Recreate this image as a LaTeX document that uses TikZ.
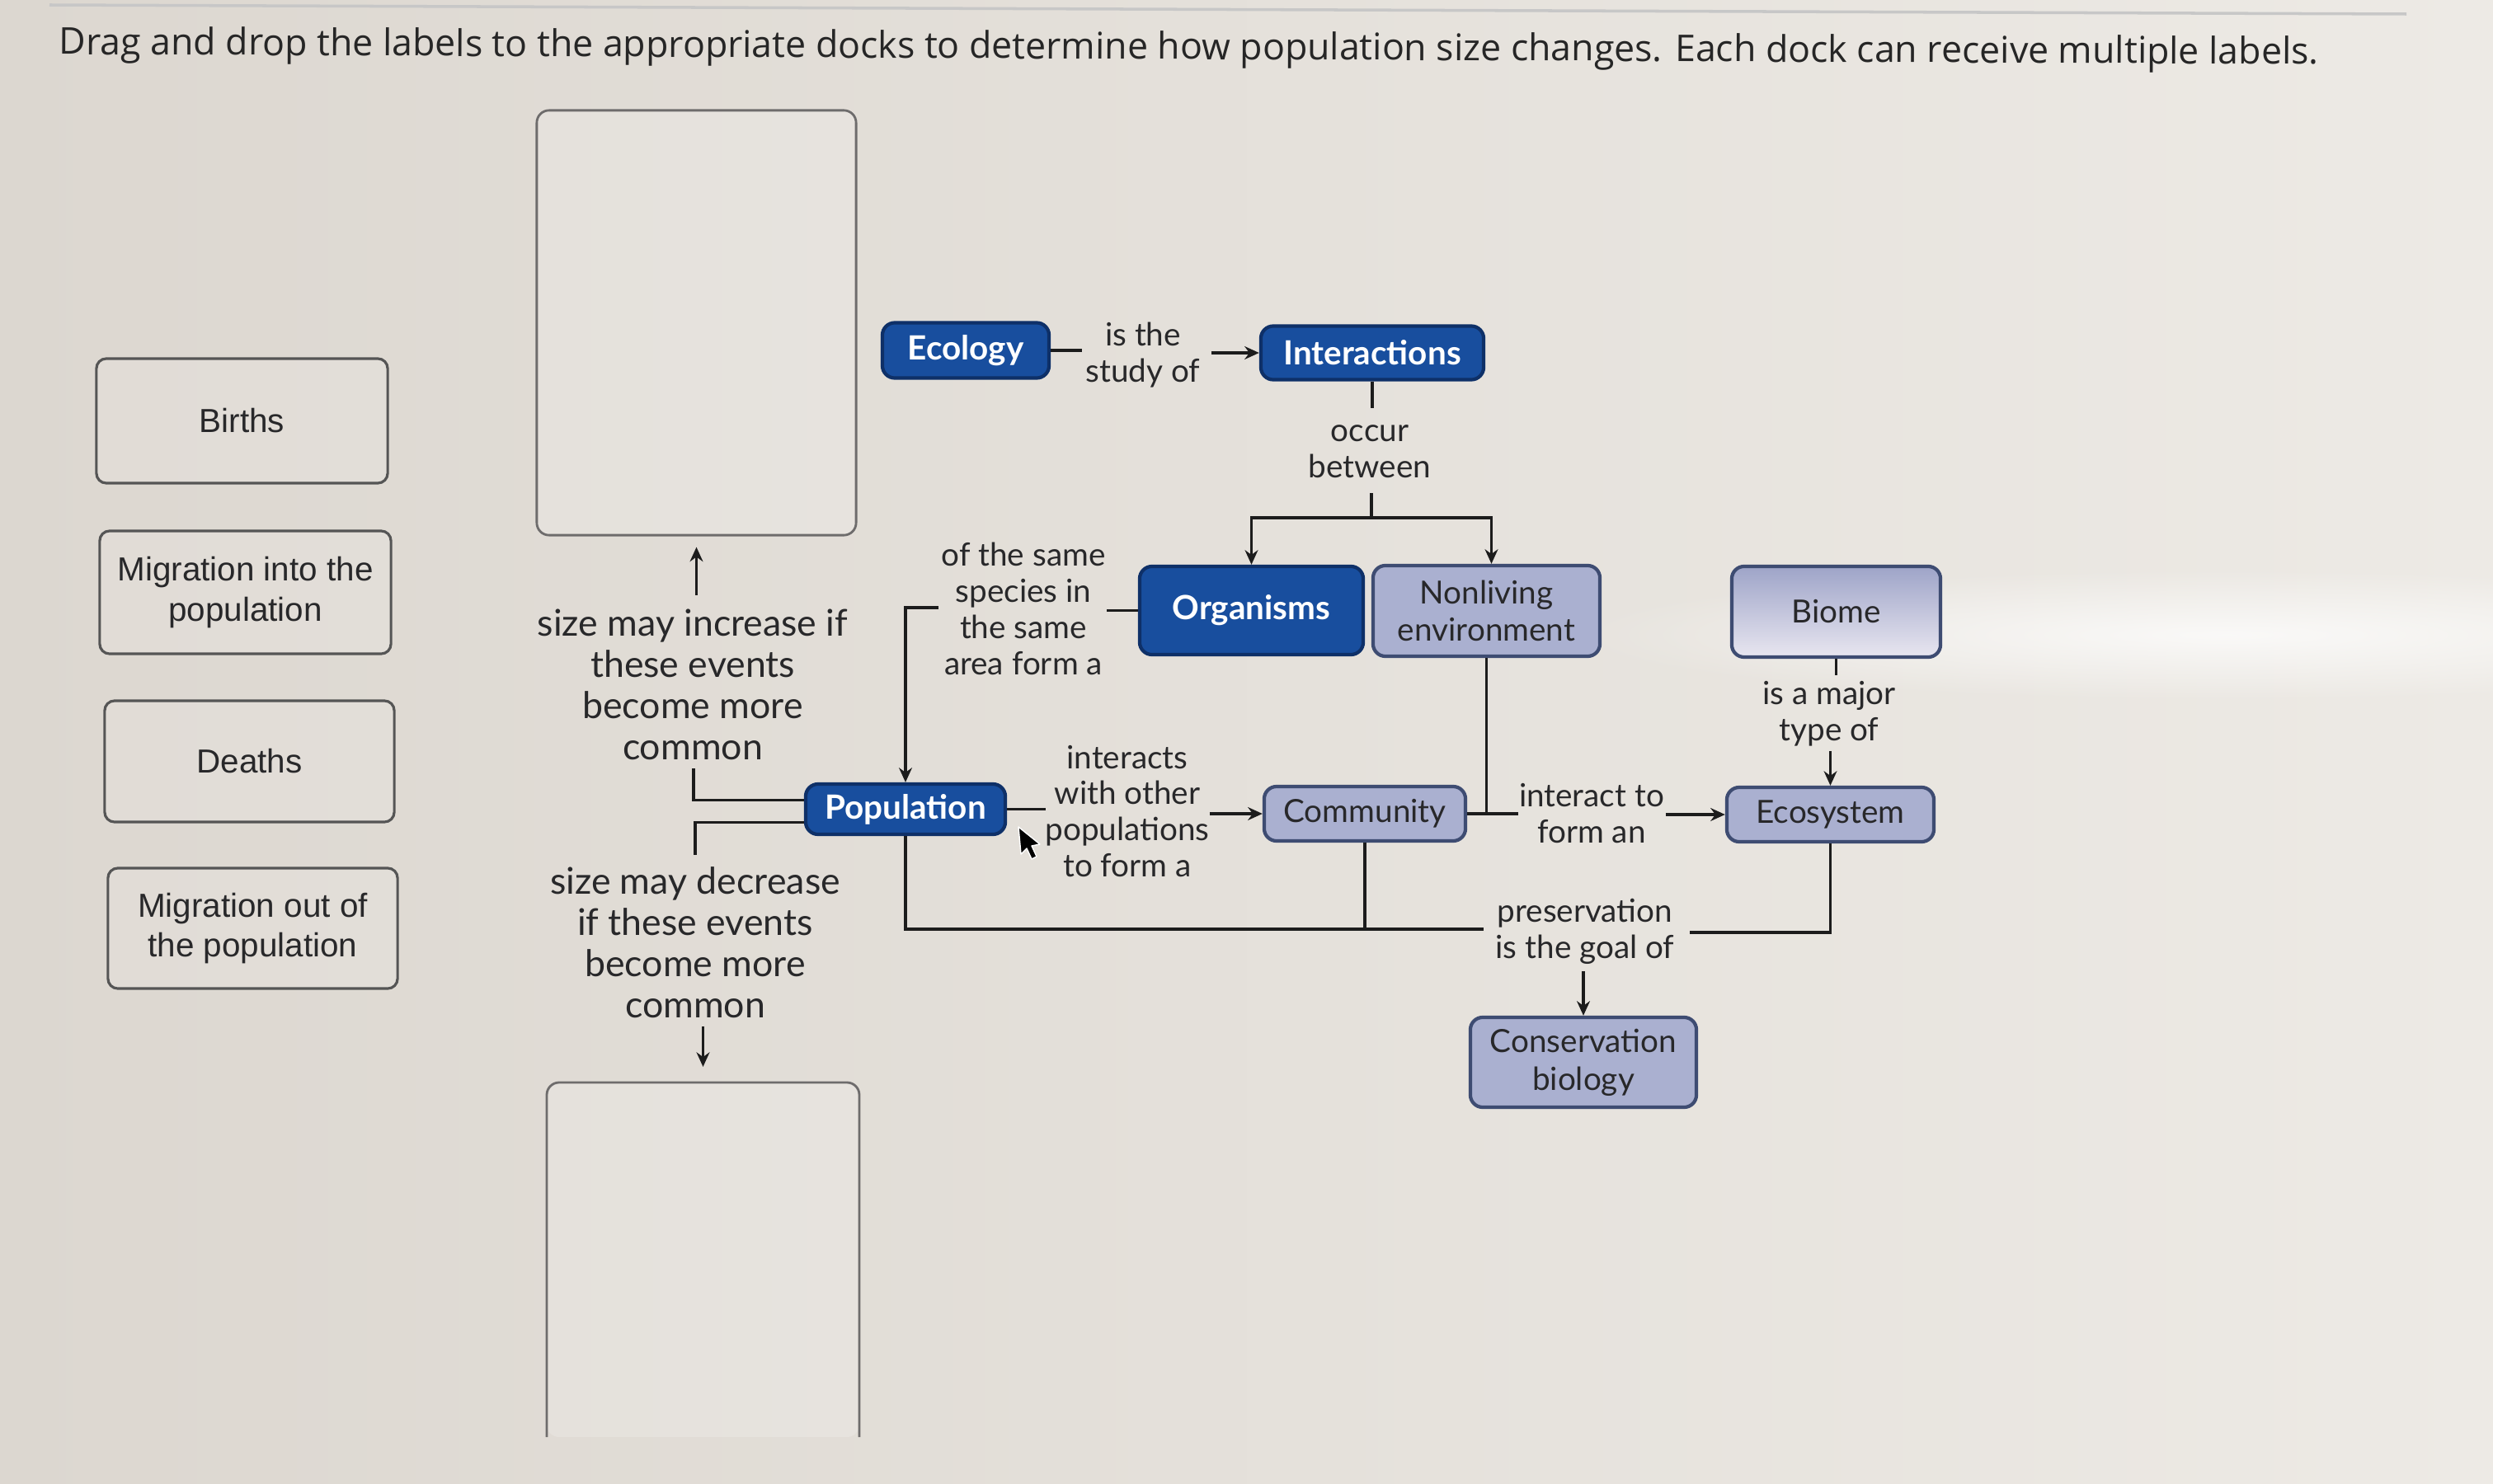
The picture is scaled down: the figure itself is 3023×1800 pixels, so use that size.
\documentclass[tikz,border=0pt]{standalone}
\usepackage{fontspec}
\usetikzlibrary{arrows.meta,fadings}
\newfontfamily\lato{Lato}
\newfontfamily\osans{Open Sans}
\newfontfamily\arialish{Liberation Sans}
\definecolor{bgL}{RGB}{220,215,208}
\definecolor{bgR}{RGB}{237,234,229}
\definecolor{blueF}{RGB}{24,78,158}
\definecolor{blueB}{RGB}{14,48,104}
\definecolor{lavF}{RGB}{170,176,208}
\definecolor{lavB}{RGB}{62,76,114}
\definecolor{lavTop}{RGB}{158,164,200}
\definecolor{lavBot}{RGB}{232,230,240}
\definecolor{txt}{RGB}{40,40,42}
\definecolor{lineC}{RGB}{28,28,28}
\definecolor{cardB}{RGB}{85,85,85}
\definecolor{dockB}{RGB}{110,108,108}
\tikzfading[name=glowfade, inner color=transparent!25, outer color=transparent!100]
\tikzset{
  darknode/.style={draw=blueB, fill=blueF, line width=1.2pt, rounded corners=0.15cm,
    text=white, font=\lato\bfseries\fontsize{11.5}{13.5}\selectfont, inner sep=0pt, align=center},
  lavnode/.style={draw=lavB, fill=lavF, line width=1.2pt, rounded corners=0.15cm,
    text=txt, font=\lato\fontsize{11}{13}\selectfont, inner sep=0pt, align=center},
  linklabel/.style={font=\lato\fontsize{11}{12.5}\selectfont, text=txt, align=center, inner sep=0pt},
  sidelabel/.style={font=\lato\fontsize{12.7}{14.2}\selectfont, text=txt, align=center, inner sep=0pt},
  card/.style={draw=cardB, fill=white, fill opacity=0.12, text opacity=1, line width=0.9pt,
    rounded corners=0.12cm, font=\arialish\fontsize{11.5}{13.7}\selectfont, text=txt,
    align=center, inner sep=0pt},
  dockbox/.style={draw=dockB, fill=white, fill opacity=0.18, line width=0.8pt, rounded corners=0.15cm},
  conn/.style={draw=lineC, line width=1.1pt},
  arr/.style={conn, -{Stealth[length=5pt,width=4.5pt]}},
}
\begin{document}
\begin{tikzpicture}[x=0.01cm, y=-0.01cm]
\useasboundingbox (0,0) rectangle (3023,1800);
\shade[left color=bgL, right color=bgR] (0,0) rectangle (3023,1800);
% glare of the photo
\fill[white, path fading=glowfade] (1900,690) rectangle (3500,850);
% top rule and title
\draw[black!22, line width=1pt] (60,6) -- (2918,17);
\node[anchor=base west, inner sep=0pt, rotate=-0.25, font=\osans\fontsize{12.7}{15}\selectfont, text=black!85]
  (title) at (71,66) {Drag and drop the labels to the appropriate docks to determine how population size changes. Each dock can receive multiple labels.};

% cards
\node[card, minimum width=3.53cm, minimum height=1.51cm] (births) at (293.5,510.5) {Births};
\node[card, minimum width=3.53cm, minimum height=1.49cm] (migin) at (297.5,718.5) {Migration into the\\population};
\node[card, minimum width=3.51cm, minimum height=1.47cm] (deaths) at (302.5,923.5) {Deaths};
\node[card, minimum width=3.51cm, minimum height=1.46cm] (migout) at (306.5,1126) {Migration out of\\the population};

% docks
\node[dockbox, minimum width=3.87cm, minimum height=5.15cm] (dockup) at (844.5,391.5) {};
\fill[white, opacity=0.18, rounded corners=0.15cm] (663,1743) -- (663,1313) -- (1042,1313) -- (1042,1743) -- cycle;
\draw[dockbox, fill=none] (663,1743) -- (663,1313) -- (1042,1313) -- (1042,1743);
\coordinate (dockdown) at (852.5,1313);

% side labels
\node[sidelabel] (inc) at (840,830) {size may increase if\\these events\\become more\\common};
\node[sidelabel] (dec) at (843,1143) {size may decrease\\if these events\\become more\\common};

% concept nodes
\node[darknode, minimum width=2.02cm, minimum height=0.67cm] (ecology) at (1171,425) {Ecology};
\node[darknode, minimum width=2.70cm, minimum height=0.65cm] (inter) at (1664,428) {Interactions};
\node[darknode, minimum width=2.71cm, minimum height=1.07cm] (org) at (1517.5,740.5) {Organisms};
\node[lavnode, minimum width=2.75cm, minimum height=1.10cm] (nonliv) at (1802.5,741) {Nonliving\\environment};
\node[lavnode, minimum width=2.53cm, minimum height=1.10cm, shading=axis, top color=lavTop, bottom color=lavBot] (biome) at (2226.5,742) {Biome};
\node[darknode, minimum width=2.42cm, minimum height=0.61cm] (pop) at (1098,981.5) {Population};
\node[lavnode, minimum width=2.44cm, minimum height=0.66cm] (comm) at (1655,987) {Community};
\node[lavnode, minimum width=2.51cm, minimum height=0.66cm] (eco) at (2219.5,988) {Ecosystem};
\node[lavnode, minimum width=2.74cm, minimum height=1.09cm] (cons) at (1920,1288.5) {Conservation\\biology};

% link labels
\node[linklabel] (l1) at (1386,431) {is the\\study of};
\node[linklabel] (l2) at (1661,548) {occur\\between};
\node[linklabel] (l3) at (1241,738) {of the same\\species in\\the same\\area form a};
\node[linklabel] (l4) at (1367,984) {interacts\\with other\\populations\\to form a};
\node[linklabel] (l5) at (1930,987) {interact to\\form an};
\node[linklabel] (l6) at (2218,866) {is a major\\type of};
\node[linklabel] (l7) at (1922,1130) {preservation\\is the goal of};

% connectors
\draw[conn] (ecology.east) -- ++(38,0);
\draw[arr] ([xshift=-0.58cm]inter.west) -- (inter.west);
\draw[conn] (inter.south) -- ++(0,32);
\coordinate (split) at (1663,628);
\draw[conn] (1663,598) -- (split);
\draw[arr] (split) -| (org.north);
\draw[arr] (split) -| ([xshift=0.06cm]nonliv.north);
\draw[conn] (org.west) -- ++(-38,0);
\draw[arr] (1138,737) -| (pop.north);
\draw[conn] (pop.east) -- ++(47,0);
\draw[arr] ([xshift=-0.64cm]comm.west) -- (comm.west);
\draw[conn] (comm.east) -- ++(62,0);
\draw[conn] (nonliv.south) -- (nonliv.south |- comm.east);
\draw[arr] ([xshift=-0.72cm]eco.west) -- (eco.west);
\draw[conn] (biome.south) -- ++(0,20);
\draw[arr] ([yshift=0.42cm]eco.north) -- (eco.north);
\coordinate (bottomrun) at (1097,1127);
\draw[conn] (pop.south) |- (1799,1127);
\draw[conn] (comm.south) -- (comm.south |- bottomrun);
\draw[conn] (eco.south) |- (2049,1131);
\draw[arr] ([yshift=0.54cm]cons.north) -- (cons.north);
\draw[conn] ([yshift=0.11cm]pop.west) -| (841,932);
\draw[conn] ([yshift=-0.16cm]pop.west) -| (843,1037);
\draw[arr] ([yshift=-0.71cm]dockup.south) -- ([yshift=-0.13cm]dockup.south);
\draw[arr] ([yshift=0.68cm]dockdown) -- ([yshift=0.19cm]dockdown);

% mouse pointer
\filldraw[fill=black, draw=white, line width=0.4pt, line join=round]
  (1235,1003) -- (1238,1036) -- (1245,1029) -- (1251,1042) -- (1257,1039) -- (1251,1026) -- (1261,1024) -- cycle;
\end{tikzpicture}
\end{document}
